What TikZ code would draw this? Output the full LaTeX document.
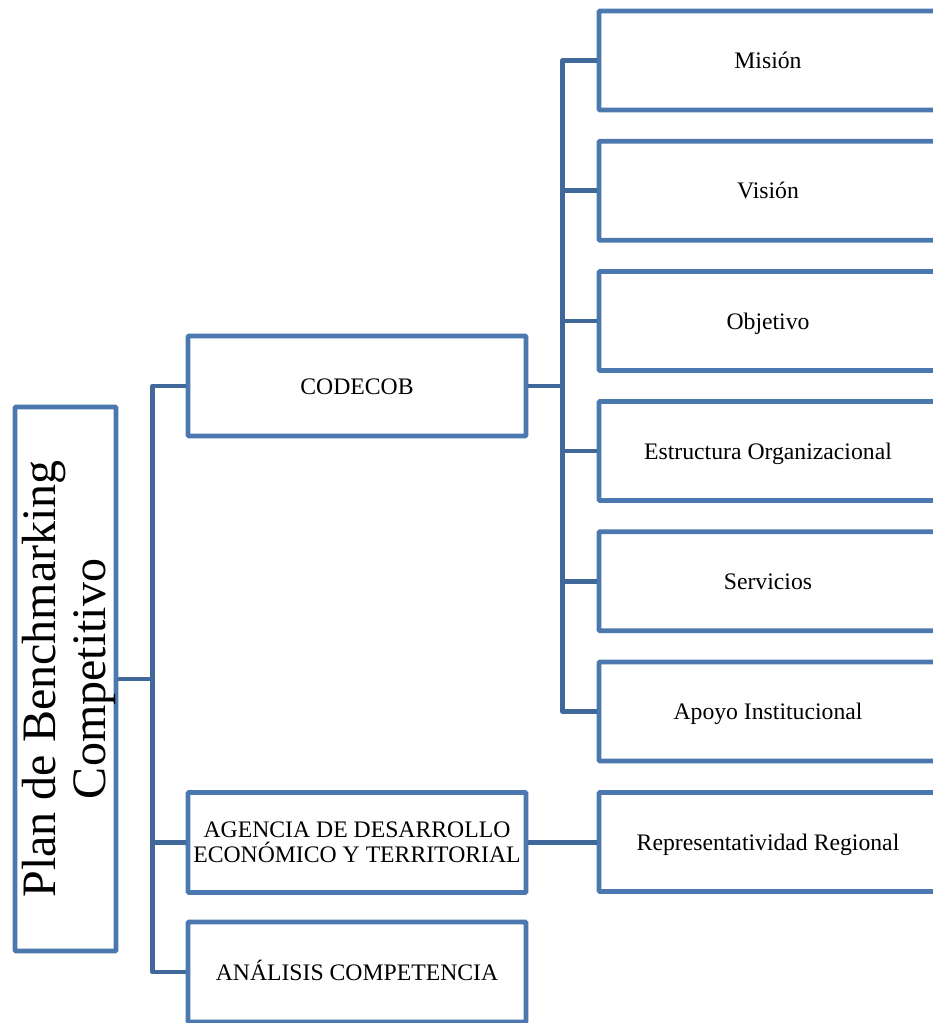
\documentclass[tikz,border=0pt]{standalone}
\usepackage{fontspec}
\setmainfont{Liberation Serif}
\definecolor{boxblue}{RGB}{74,120,175}
\definecolor{linkblue}{RGB}{64,104,154}
\begin{document}
\begin{tikzpicture}[x=1pt,y=-1pt,
  box/.style={draw=boxblue, line width=4.8pt, rounded corners=1pt, fill=white,
    minimum width=338pt, minimum height=100pt, inner sep=0pt,
    font=\fontsize{23.7}{25.3}\selectfont, align=center},
  one/.style={text height=16pt, text depth=0pt},
  vtext/.style={rotate=90, anchor=base, inner sep=0pt, font=\fontsize{48}{50}\selectfont},
  conn/.style={draw=linkblue, line width=4.5pt, line join=round}]
\clip (0,0) rectangle (933,1023);
\fill[white] (0,0) rectangle (933,1023);
% root
\node[box, minimum width=101pt, minimum height=544pt] (plan) at (65.5,679) {};
\node[vtext] (plantop) at (55,679) {Plan de Benchmarking};
\node[vtext] (planbot) at (105,679) {Competitivo};
% level 1
\node[box, one] (codecob) at (357,386) {CODECOB};
\node[box] (agencia) at (357,842.5) {AGENCIA DE DESARROLLO\\ECONÓMICO Y TERRITORIAL};
\node[box, one] (analisis) at (357,972) {ANÁLISIS COMPETENCIA};
% level 2
\node[box, one, minimum height=99pt] (mision) at (768,60.5) {Misión};
\node[box, one, minimum height=99pt] (vision) at (768,190.7) {Visión};
\node[box, one, minimum height=99pt] (objetivo) at (768,321) {Objetivo};
\node[box, one, minimum height=99pt] (estructura) at (768,451) {Estructura Organizacional};
\node[box, one, minimum height=99pt] (servicios) at (768,581.3) {Servicios};
\node[box, one, minimum height=99pt] (apoyo) at (768,711.5) {Apoyo Institucional};
\node[box, one, minimum height=99pt] (repr) at (768,842) {Representatividad Regional};
% connectors
\coordinate (ltrunk) at (152.5,679);
\draw[conn] (plan.east) -- (ltrunk);
\draw[conn] (ltrunk) |- (codecob.west);
\draw[conn] (ltrunk) |- (agencia.west);
\draw[conn] (ltrunk) |- (analisis.west);
\coordinate (rtrunk) at (562.5,386);
\draw[conn] (codecob.east) -- (rtrunk);
\foreach \n in {mision,vision,objetivo,estructura,servicios,apoyo}
  \draw[conn] (rtrunk) |- (\n.west);
\draw[conn] (agencia.east) -- (agencia.east -| repr.west);
\end{tikzpicture}
\end{document}
